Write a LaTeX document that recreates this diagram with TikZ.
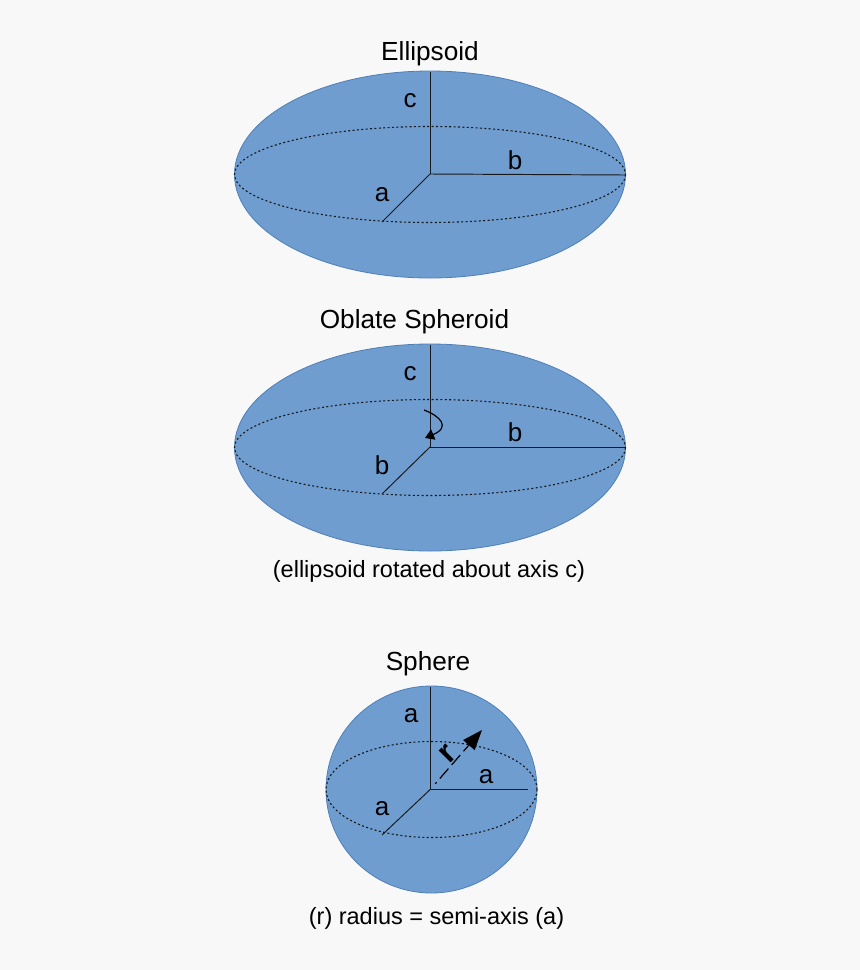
\documentclass[tikz,border=0pt]{standalone}
\usepackage{fontspec}
\setmainfont{Liberation Sans}
\usetikzlibrary{arrows.meta}
\definecolor{bgc}{HTML}{F8F8F8}
\definecolor{bluef}{HTML}{6F9DD0}
\definecolor{blued}{HTML}{4F7FB8}
\tikzset{
  solid body/.style={fill=bluef,draw=blued,line width=0.8pt},
  equator/.style={draw=black!90,line width=1.1pt,dash pattern=on 2pt off 2.4pt},
  axisline/.style={draw=black!90,line width=0.95pt},
  lbl/.style={font=\fontsize{26}{30}\selectfont,inner sep=0pt,text=black},
  ttl/.style={font=\fontsize{26.2}{30}\selectfont,inner sep=0pt,text=black},
  note/.style={font=\fontsize{23.5}{28}\selectfont,inner sep=0pt,text=black}
}
\begin{document}
\begin{tikzpicture}[x=1pt,y=-1pt]
\useasboundingbox (0,0) rectangle (860,970);
\fill[bgc] (0,0) rectangle (860,970);
% Ellipsoid
\node[ttl] (t1) at (430,53.5) {Ellipsoid};
\fill[solid body] (430,174.5) ellipse [x radius=195.5,y radius=103.5];
\draw[equator] (430,174.5) ellipse [x radius=195.5,y radius=48];
\coordinate (o1) at (430,174);
\coordinate (c1) at (430,72);
\coordinate (b1) at (626,175);
\coordinate (a1) at (382,222);
\draw[axisline] (o1) -- (c1);
\draw[axisline] (o1) -- (b1);
\draw[axisline] (o1) -- (a1);
\node[lbl] (lc1) at (410,101) {c};
\node[lbl] (lb1) at (515,160) {b};
\node[lbl] (la1) at (382,195) {a};
% Oblate
\node[ttl] (t2) at (414.5,321.5) {Oblate Spheroid};
\fill[solid body] (430,447.5) ellipse [x radius=195.5,y radius=103.5];
\draw[equator] (430,447.5) ellipse [x radius=195.5,y radius=48];
\coordinate (o2) at (430,447);
\coordinate (c2) at (430,345);
\coordinate (b2) at (626,447);
\coordinate (a2) at (382,494);
\draw[axisline] (o2) -- (c2);
\draw[axisline] (o2) -- (b2);
\draw[axisline] (o2) -- (a2);
\node[lbl] (lc2) at (410,374) {c};
\node[lbl] (lb2) at (515,432) {b};
\node[lbl] (la2) at (382,465) {b};
\coordinate (rs) at (424,410);
\coordinate (re) at (425,438);
\draw[line width=1.2pt,-{Triangle[length=9pt,width=11pt]}] (rs) .. controls (440,416) and (451,427) .. (re);
\node[note] (n2) at (429,571.5) {(ellipsoid rotated about axis c)};
% Sphere
\node[ttl] (t3) at (428,663.5) {Sphere};
\fill[solid body] (431.5,789.5) ellipse [x radius=105.5,y radius=103.5];
\draw[equator] (431.5,789.5) ellipse [x radius=105.5,y radius=48];
\coordinate (o3) at (430.7,789);
\coordinate (c3) at (430.7,687);
\coordinate (b3) at (528,789);
\coordinate (a3) at (382,835);
\coordinate (r3) at (482,730);
\draw[axisline] (o3) -- (c3);
\draw[axisline] (o3) -- (b3);
\draw[axisline] (o3) -- (a3);
\draw[line width=1.2pt,dash pattern=on 0pt off 7pt on 2pt off 5pt on 13pt off 5pt on 13pt off 5pt on 13pt off 5pt,-{Triangle[length=20pt,width=15pt]}] (o3) -- (r3);
\node[lbl] (lc3) at (411,716) {a};
\node[lbl] (lb3) at (486,777) {a};
\node[lbl] (la3) at (382,809) {a};
\node[font=\fontsize{32}{32}\selectfont\bfseries,inner sep=0pt,text=black,rotate=45] (lr3) at (447.5,754) {r};
\node[note] (n3) at (436.5,918.5) {(r) radius = semi-axis (a)};
\end{tikzpicture}
\end{document}
